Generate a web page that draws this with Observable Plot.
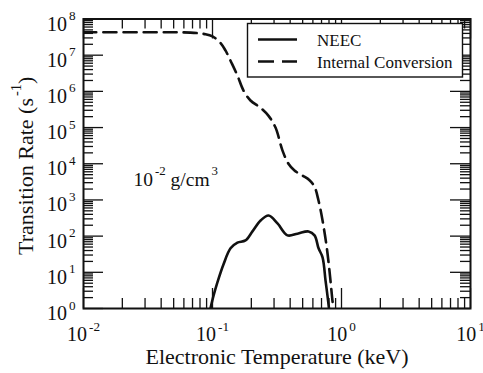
<!DOCTYPE html>
<html><head><meta charset="utf-8">
<script src="https://cdn.jsdelivr.net/npm/d3@7"></script>
<script src="https://cdn.jsdelivr.net/npm/@observablehq/plot@0.6"></script>
<style>
html,body{margin:0;padding:0;background:#fff}
text{white-space:pre}
</style>
</head><body><div id="chart"></div>
<script>
// ---- data ----
const temperatureIC = [0.01, 0.033, 0.0675, 0.0883, 0.1, 0.115, 0.126, 0.140, 0.156, 0.174, 0.197, 0.236, 0.272, 0.308, 0.349, 0.388, 0.432, 0.499, 0.565, 0.618, 0.664, 0.713, 0.765, 0.807, 0.851, 0.867];
const rateIC = [4.3e7, 4.3e7, 4.2e7, 3.8e7, 3.3e7, 2.2e7, 1.35e7, 6.3e6, 2.75e6, 1.05e6, 5.6e5, 3.5e5, 2.1e5, 1.0e5, 2.3e4, 1.0e4, 6.5e3, 4.7e3, 3.5e3, 2.3e3, 950, 270, 55, 11, 1.66, 1.0];
const temperatureNEEC = [0.0964, 0.102, 0.109, 0.122, 0.138, 0.156, 0.180, 0.204, 0.236, 0.272, 0.319, 0.381, 0.456, 0.555, 0.618, 0.664, 0.713, 0.752, 0.778, 0.80];
const rateNEEC = [1, 2.3, 5.2, 17, 46, 66, 76, 135, 270, 370, 224, 105, 117, 135, 105, 46, 26, 5.9, 2.3, 1];
const seriesNames = ["NEEC", "Internal Conversion"];
const xDecades = [0.01, 0.1, 1, 10];
const xTickLabels = ["10^{-2}", "10^{-1}", "10^{0}", "10^{1}"];
const yDecades = [1, 10, 1e2, 1e3, 1e4, 1e5, 1e6, 1e7, 1e8];
const yTickLabels = ["10^{0}", "10^{1}", "10^{2}", "10^{3}", "10^{4}", "10^{5}", "10^{6}", "10^{7}", "10^{8}"];
const xTitle = "Electronic Temperature (keV)";
const yTitle = "Transition Rate (s^{-1})";
const annotation = "10^{-2} g/cm^{3}";
const annotationX = 0.0244;
const annotationY = 2500;

// ---- layout ----
const W = 483, H = 373, mL = 83, mR = 13, mT = 18.5, mB = 65;
const innerW = W - mL - mR, innerH = H - mT - mB;
const ink = "#111";
const FONT = "'Liberation Serif', 'Times New Roman', serif";

const minors = (decs) => decs.slice(0, -1).flatMap(d => [2,3,4,5,6,7,8,9].map(k => d * k));
const xMinor = minors(xDecades), yMinor = minors(yDecades);

const tk = {stroke: ink, strokeWidth: 1.3};
const xTicks = (vals, len) => [
  Plot.tickX(vals, {x: d => d, insetTop: innerH - len, ...tk}),
  Plot.tickX(vals, {x: d => d, insetBottom: innerH - len, ...tk})
];
const yTicks = (vals, len) => [
  Plot.tickY(vals, {y: d => d, insetRight: innerW - len, ...tk}),
  Plot.tickY(vals, {y: d => d, insetLeft: innerW - len, ...tk})
];

const icData = temperatureIC.map((t, i) => ({t, r: rateIC[i]}));
const neecData = temperatureNEEC.map((t, i) => ({t, r: rateNEEC[i]}));

const chart = Plot.plot({
  width: W, height: H,
  marginLeft: mL, marginRight: mR, marginTop: mT, marginBottom: mB,
  x: {type: "log", domain: [xDecades[0], xDecades[xDecades.length - 1]], axis: null},
  y: {type: "log", domain: [yDecades[0], yDecades[yDecades.length - 1]], axis: null},
  style: {fontFamily: FONT, fontSize: "20px", background: "#fff", color: ink},
  marks: [
    Plot.line(neecData, {x: "t", y: "r", stroke: ink, strokeWidth: 2.6, curve: "catmull-rom", clip: true}),
    Plot.line(icData, {x: "t", y: "r", stroke: ink, strokeWidth: 2.6, strokeDasharray: "13,7", curve: "catmull-rom", clip: true}),
    ...xTicks(xMinor, 10), ...xTicks(xDecades, 20),
    ...yTicks(yMinor, 10), ...yTicks(yDecades, 20),
    Plot.frame({stroke: ink, strokeWidth: 2}),
    Plot.text(xDecades, {x: d => d, frameAnchor: "bottom", text: (d, i) => xTickLabels[i], lineAnchor: "bottom", textAnchor: "middle", dy: 32.5, fontSize: 20}),
    Plot.text(yDecades, {y: d => d, frameAnchor: "left", text: (d, i) => yTickLabels[i], lineAnchor: "bottom", textAnchor: "end", dx: -8, dy: 11.5, fontSize: 20}),
    Plot.text([xTitle], {frameAnchor: "bottom", text: d => d, lineAnchor: "bottom", textAnchor: "middle", dy: 55, fontSize: 22}),
    Plot.text([yTitle], {frameAnchor: "left", text: d => d, rotate: -90, lineAnchor: "bottom", textAnchor: "middle", dx: -51, dy: 2, fontSize: 22}),
    Plot.text([annotation], {x: () => annotationX, y: () => annotationY, text: d => d, lineAnchor: "bottom", textAnchor: "start", fontSize: 19.5})
  ]
});
document.getElementById("chart").appendChild(chart);

// ---- superscripts as real tspans ----
function supify(svg) {
  svg.querySelectorAll("text").forEach(t => {
    const s = t.textContent;
    if (!s.includes("^{")) return;
    const fs = parseFloat(getComputedStyle(t).fontSize) || 20;
    const raise = 0.52 * fs;
    t.textContent = "";
    const re = /\^\{([^}]*)\}/g;
    let last = 0, m, wasSup = false;
    const add = (txt, sup) => {
      if (!txt) return;
      const ts = document.createElementNS("http://www.w3.org/2000/svg", "tspan");
      ts.textContent = txt;
      if (sup) {
        ts.setAttribute("font-size", (0.66 * fs).toFixed(1));
        ts.setAttribute("dy", (-raise).toFixed(1));
        ts.setAttribute("dx", "2");
      } else if (wasSup) {
        ts.setAttribute("dy", raise.toFixed(1));
      }
      t.appendChild(ts);
      wasSup = sup;
    };
    while ((m = re.exec(s))) {
      add(s.slice(last, m.index), false);
      add(m[1], true);
      last = re.lastIndex;
    }
    add(s.slice(last), false);
  });
}
supify(chart);

// ---- legend box (drawn over the ticks, white fill) ----
const lgW = 215, lgH = 53.5;
const lgX = W - mR - 7.5 - lgW, lgY = mT + 5;
const lg = d3.select(chart).append("g").attr("font-family", FONT).attr("font-size", 17).attr("text-anchor", "start");
lg.append("rect").attr("x", lgX).attr("y", lgY).attr("width", lgW).attr("height", lgH)
  .attr("fill", "#fff").attr("stroke", ink).attr("stroke-width", 1.4);
const rows = [{dash: null, dy: 16}, {dash: "16,8", dy: 38}];
seriesNames.forEach((name, i) => {
  const y = lgY + rows[i].dy;
  const ln = lg.append("line").attr("x1", lgX + 10.5).attr("x2", lgX + 49.5).attr("y1", y).attr("y2", y)
    .attr("stroke", ink).attr("stroke-width", 2.6);
  if (rows[i].dash) ln.attr("stroke-dasharray", rows[i].dash);
  lg.append("text").attr("x", lgX + 69.5).attr("y", y + 6).attr("fill", ink).attr("text-anchor", "start").text(name);
});
</script>
</body></html>
